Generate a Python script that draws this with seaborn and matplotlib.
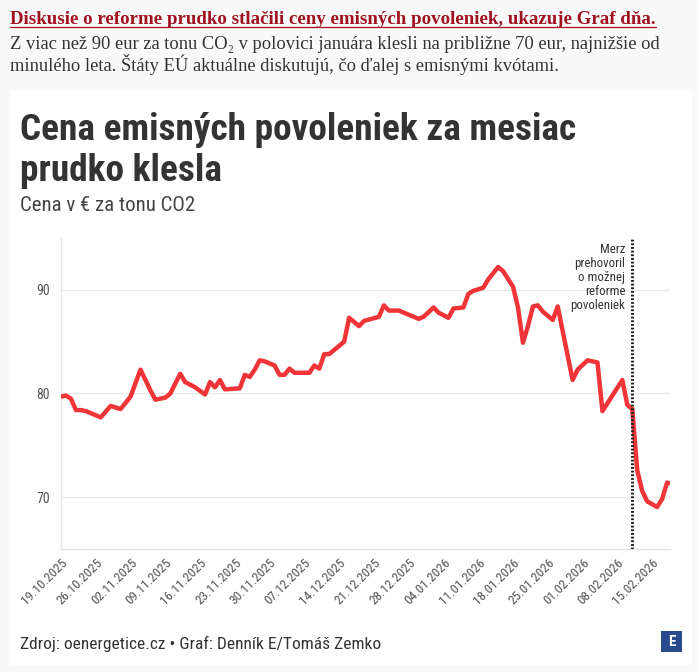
import matplotlib
matplotlib.use("Agg")
import matplotlib.pyplot as plt
import matplotlib.dates as mdates
from matplotlib import font_manager
from matplotlib.patches import Rectangle
from matplotlib.lines import Line2D
import pandas as pd
import seaborn as sns

# price of EU emission allowances, EUR per tonne CO2
dates = ["2025-10-19", "2025-10-20", "2025-10-21", "2025-10-22", "2025-10-23",
         "2025-10-24", "2025-10-27", "2025-10-29", "2025-10-31", "2025-11-02",
         "2025-11-04", "2025-11-06", "2025-11-07", "2025-11-09", "2025-11-10",
         "2025-11-12", "2025-11-13", "2025-11-15", "2025-11-17", "2025-11-18",
         "2025-11-19", "2025-11-20", "2025-11-21", "2025-11-24", "2025-11-25",
         "2025-11-26", "2025-11-27", "2025-11-28", "2025-11-29", "2025-12-01",
         "2025-12-02", "2025-12-03", "2025-12-04", "2025-12-05", "2025-12-08",
         "2025-12-09", "2025-12-10", "2025-12-11", "2025-12-12", "2025-12-13",
         "2025-12-15", "2025-12-16", "2025-12-18", "2025-12-19", "2025-12-22",
         "2025-12-23", "2025-12-24", "2025-12-26", "2025-12-30", "2025-12-31",
         "2026-01-02", "2026-01-03", "2026-01-05", "2026-01-06", "2026-01-08",
         "2026-01-09", "2026-01-10", "2026-01-12", "2026-01-13", "2026-01-15",
         "2026-01-16", "2026-01-18", "2026-01-19", "2026-01-20", "2026-01-21",
         "2026-01-22", "2026-01-23", "2026-01-24", "2026-01-26", "2026-01-27",
         "2026-01-28", "2026-01-30", "2026-01-31", "2026-02-02", "2026-02-04",
         "2026-02-05", "2026-02-07", "2026-02-09", "2026-02-10", "2026-02-11",
         "2026-02-12", "2026-02-13", "2026-02-14", "2026-02-16", "2026-02-17",
         "2026-02-18", "2026-02-19"]
prices = [79.7, 79.8, 79.5, 78.4, 78.4,
          78.3, 77.7, 78.8, 78.5, 79.7,
          82.3, 80.3, 79.4, 79.6, 80.0,
          81.9, 81.1, 80.6, 79.9, 81.1,
          80.6, 81.3, 80.4, 80.5, 81.8,
          81.6, 82.3, 83.2, 83.1, 82.7,
          81.8, 81.8, 82.4, 82.0, 82.0,
          82.7, 82.4, 83.8, 83.8, 84.2,
          85.0, 87.3, 86.5, 87.0, 87.4,
          88.5, 88.0, 88.0, 87.2, 87.4,
          88.3, 87.8, 87.3, 88.2, 88.3,
          89.6, 89.9, 90.2, 91.0, 92.2,
          91.8, 90.3, 88.3, 84.9, 86.5,
          88.4, 88.5, 87.9, 87.1, 88.4,
          86.0, 81.3, 82.3, 83.2, 83.0,
          78.3, 79.8, 81.3, 78.9, 78.5,
          72.6, 70.6, 69.6, 69.05, 69.8,
          71.4, 71.3]
tick_dates = pd.date_range("2025-10-19", "2026-02-15", freq="7D")
y_ticks = [70, 80, 90]
event_date = "2026-02-11"
event_label = "Merz\nprehovoril\no možnej\nreforme\npovoleniek"

headline = "Diskusie o reforme prudko stlačili ceny emisných povoleniek, ukazuje Graf dňa."
lead_lines = ["Z viac než 90 eur za tonu CO₂ v polovici januára klesli na približne 70 eur, najnižšie od",
              "minulého leta. Štáty EÚ aktuálne diskutujú, čo ďalej s emisnými kvótami."]
title_lines = ["Cena emisných povoleniek za mesiac", "prudko klesla"]
subtitle = "Cena v € za tonu CO2"
source = "Zdroj: oenergetice.cz • Graf: Denník E/Tomáš Zemko"

df = pd.DataFrame({"date": pd.to_datetime(dates), "price": prices})

sns.set_theme(style="white")
names = {f.name for f in font_manager.fontManager.ttflist}
cond = next((n for n in ["Roboto Condensed", "Liberation Sans Narrow", "Roboto"] if n in names), "DejaVu Sans")
plt.rcParams["font.family"] = [cond, "DejaVu Sans"]
serif = ["Liberation Serif", "DejaVu Serif"]

W, H = 697, 672
fx = lambda px: px / W
fy = lambda py: 1 - py / H

fig = plt.figure(figsize=(W / 100, H / 100), dpi=100)
fig.patch.set_facecolor("#f9f9f9")
fig.patches.append(Rectangle((fx(10), fy(665)), (692 - 10) / W, (665 - 91) / H,
                             transform=fig.transFigure, facecolor="white",
                             edgecolor="none", zorder=-5))

# header above the chart card
head = fig.text(fx(10), fy(24), headline, family=serif, fontweight="bold",
                fontsize=13.6, color="#a0121f", va="baseline")
for i, line in enumerate(lead_lines):
    fig.text(fx(10), fy(49 + 22 * i), line, family=serif, fontsize=13.3,
             color="#333333", va="baseline")

for i, line in enumerate(title_lines):
    fig.text(fx(20), fy(140 + 41 * i), line, fontsize=26.8, fontweight="bold",
             color="#333333", va="baseline")
fig.text(fx(20), fy(211), subtitle, fontsize=15, color="#444444", va="baseline")
fig.text(fx(20), fy(649), source, fontsize=12.5, color="#333333", va="baseline")

# logo
fig.patches.append(Rectangle((fx(661), fy(652)), 21 / W, 21 / H,
                             transform=fig.transFigure, facecolor="#2b4a8e",
                             edgecolor="none", zorder=1))
fig.text(fx(671.5), fy(641.5), "E", color="white", fontsize=11, fontweight="bold",
         ha="center", va="center", zorder=2)

ax = fig.add_axes([fx(61), fy(549), (670 - 61) / W, (549 - 238) / H])
ax.set_facecolor("white")
sns.lineplot(data=df, x="date", y="price", ax=ax, color="#f03437", linewidth=3.2,
             solid_joinstyle="round", solid_capstyle="round", zorder=3)

ax.axvline(pd.Timestamp(event_date), color="#222222", linestyle=(0, (0.6, 0.6)),
           linewidth=2.2, zorder=4)
ax.annotate(event_label, xy=(pd.Timestamp(event_date), 0.985),
            xycoords=("data", "axes fraction"), xytext=(-5, 0),
            textcoords="offset points", ha="right", va="top", fontsize=9.3,
            color="#333333", linespacing=1.12)

ax.set_xlim(pd.Timestamp("2025-10-19"), pd.Timestamp("2025-10-19") + pd.Timedelta(days=122.6))
ax.set_ylim(65, 95)
ax.set_yticks(y_ticks)
ax.set_xticks(tick_dates)
ax.xaxis.set_major_formatter(mdates.DateFormatter("%d.%m.%Y"))
ax.yaxis.grid(True, color="#e9e9e9", linewidth=1)
ax.xaxis.grid(False)
ax.tick_params(axis="y", length=0, pad=8, labelsize=10, labelcolor="#555555")
ax.tick_params(axis="x", length=3, width=0.8, color="#dddddd", pad=2,
               labelsize=9.5, labelcolor="#555555")
plt.setp(ax.get_xticklabels(), rotation=45, ha="right", rotation_mode="anchor")
ax.set_xlabel("")
ax.set_ylabel("")
sns.despine(ax=ax)
for s in ["left", "bottom"]:
    ax.spines[s].set_color("#e5e5e5")
    ax.spines[s].set_linewidth(1)

# underline the headline
fig.canvas.draw()
bb = head.get_window_extent().transformed(fig.transFigure.inverted())
fig.lines.append(Line2D([bb.x0, bb.x1], [fy(27), fy(27)], transform=fig.transFigure,
                        color="#a0121f", linewidth=0.9))

fig.savefig("out.png", dpi=100, facecolor=fig.get_facecolor())
